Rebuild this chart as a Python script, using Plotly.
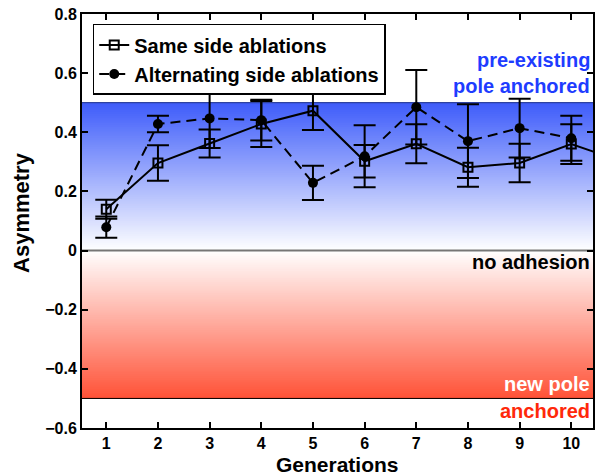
import plotly.graph_objects as go

# ---- data ----
generations_same = [1, 2, 3, 4, 5, 6, 7, 8, 9, 10, 11]
same_side = [0.140, 0.296, 0.362, 0.428, 0.473, 0.302, 0.361, 0.282, 0.296, 0.360, 0.300]
same_side_err = [0.032, 0.060, 0.047, 0.078, 0.065, 0.055, 0.066, 0.066, 0.065, 0.067, 0.060]

generations_alt = [1, 2, 3, 4, 5, 6, 7, 8, 9, 10]
alternating = [0.079, 0.428, 0.447, 0.441, 0.229, 0.319, 0.485, 0.370, 0.414, 0.380]
alternating_err = [0.036, 0.028, 0.100, 0.069, 0.058, 0.105, 0.126, 0.125, 0.099, 0.076]

x_ticks = [1, 2, 3, 4, 5, 6, 7, 8, 9, 10]
y_ticks = [0.8, 0.6, 0.4, 0.2, 0, -0.2, -0.4, -0.6]
y_tick_text = ["0.8", "0.6", "0.4", "0.2", "0", "\u22120.2", "\u22120.4", "\u22120.6"]

FONT = "Liberation Sans, Arial, Helvetica, sans-serif"


def bfont(size, color="black"):
    return dict(family=FONT, size=size, color=color, weight="bold")


fig = go.Figure()

# gradient backgrounds: overlapping bands so no seams
shapes = []
n = 80
blue_top = (62, 92, 250)
red_bot = (255, 82, 55)
for i in range(n):
    fm = (i + 0.5) / n
    c = tuple(round(255 + (b - 255) * fm) for b in blue_top)
    shapes.append(dict(type="rect", xref="paper", yref="y", x0=0, x1=1,
                       y0=0.5 * i / n, y1=0.5, fillcolor=f"rgb{c}",
                       line=dict(width=0), layer="below"))
for i in range(n):
    fm = (i + 0.5) / n
    c = tuple(round(255 + (r - 255) * fm) for r in red_bot)
    shapes.append(dict(type="rect", xref="paper", yref="y", x0=0, x1=1,
                       y0=-0.5, y1=-0.5 * i / n, fillcolor=f"rgb{c}",
                       line=dict(width=0), layer="below"))
shapes.append(dict(type="line", xref="paper", yref="y", x0=0, x1=1, y0=0.5, y1=0.5,
                   line=dict(color="#2a3a8a", width=1), layer="below"))
shapes.append(dict(type="line", xref="paper", yref="y", x0=0, x1=1, y0=-0.5, y1=-0.5,
                   line=dict(color="black", width=1), layer="below"))
shapes.append(dict(type="line", xref="paper", yref="y", x0=0, x1=1, y0=0, y1=0,
                   line=dict(color="#767676", width=2), layer="below"))

fig.add_trace(go.Scatter(
    x=generations_same, y=same_side, name="Same side ablations",
    mode="lines+markers",
    line=dict(color="black", width=2),
    marker=dict(symbol="square-open", size=9, color="black", line=dict(width=2)),
    error_y=dict(type="data", array=same_side_err, color="black", thickness=2, width=11),
))
fig.add_trace(go.Scatter(
    x=generations_alt, y=alternating, name="Alternating side ablations",
    mode="lines+markers",
    line=dict(color="black", width=2, dash="10px,6px"),
    marker=dict(symbol="circle", size=10, color="black"),
    error_y=dict(type="data", array=alternating_err, color="black", thickness=2, width=11),
))

annotations = [
    dict(text="pre-existing", xref="paper", yref="y", x=1, y=0.643, xanchor="right",
         yanchor="middle", showarrow=False, xshift=-1, font=bfont(20, "rgb(30,60,255)")),
    dict(text="pole anchored", xref="paper", yref="y", x=1, y=0.557, xanchor="right",
         yanchor="middle", showarrow=False, xshift=-1, font=bfont(20, "rgb(30,60,255)")),
    dict(text="no adhesion", xref="paper", yref="y", x=1, y=-0.04, xanchor="right",
         yanchor="middle", showarrow=False, xshift=-1, font=bfont(20, "black")),
    dict(text="new pole", xref="paper", yref="y", x=1, y=-0.45, xanchor="right",
         yanchor="middle", showarrow=False, xshift=-1, font=bfont(20, "white")),
    dict(text="anchored", xref="paper", yref="y", x=1, y=-0.542, xanchor="right",
         yanchor="middle", showarrow=False, xshift=-1, font=bfont(20, "rgb(255,40,10)")),
    dict(text="Asymmetry", xref="paper", yref="paper", x=-0.117, y=0.52,
         xanchor="center", yanchor="middle", textangle=-90, showarrow=False,
         font=bfont(22)),
    dict(text="Generations", xref="paper", yref="paper", x=0.5, y=-0.088,
         xanchor="center", yanchor="middle", showarrow=False,
         font=bfont(21)),
]

fig.update_layout(
    width=595, height=475,
    margin=dict(l=82, r=0, t=14, b=47),
    paper_bgcolor="white", plot_bgcolor="white",
    font=bfont(16),
    shapes=shapes, annotations=annotations,
    showlegend=True,
    legend=dict(x=0.021, y=0.976, xanchor="left", yanchor="top",
                bgcolor="white", bordercolor="black", borderwidth=1.5,
                font=bfont(20), tracegroupgap=0, itemwidth=30),
)
fig.update_xaxes(
    range=[0.53, 10.42], tickvals=x_ticks, ticktext=[str(t) for t in x_ticks],
    ticks="inside", ticklen=6, tickwidth=1.5, tickcolor="black",
    showline=True, linecolor="black", linewidth=2, mirror="ticks",
    showgrid=False, zeroline=False,
    tickfont=bfont(16),
)
fig.update_yaxes(
    range=[-0.6, 0.8], tickvals=y_ticks, ticktext=y_tick_text,
    ticks="inside", ticklen=6, tickwidth=1.5, tickcolor="black",
    showline=True, linecolor="black", linewidth=2, mirror="ticks",
    showgrid=False, zeroline=False,
    tickfont=bfont(16),
)

fig.write_html(
    "out.html",
    config={"displayModeBar": False},
    post_script="document.body.style.margin='0px';document.body.style.overflow='hidden';",
)
